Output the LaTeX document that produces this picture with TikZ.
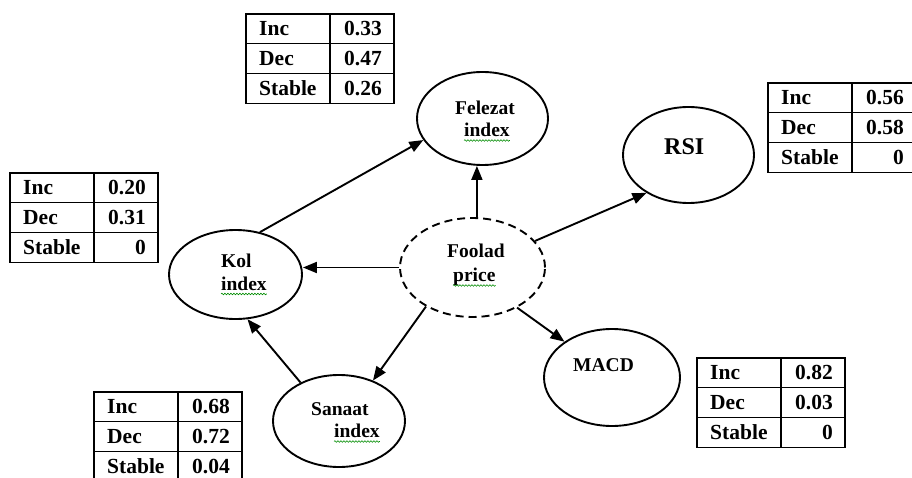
\documentclass[tikz,border=0pt]{standalone}
\usepackage{fontspec}
\setmainfont{Liberation Serif}
\usetikzlibrary{arrows.meta,shapes.geometric,decorations.pathmorphing}

\tikzset{
  ell/.style={ellipse, draw, line width=1.9pt, inner sep=0pt},
  dashell/.style={ell, dash pattern=on 8pt off 5pt},
  arr/.style={line width=1.9pt, -{Triangle[length=14pt,width=11pt]}},
  lbl/.style={anchor=base west, inner sep=0pt, font=\fontsize{19.5}{23}\selectfont\bfseries},
  cell/.style={anchor=base west, inner sep=0pt, font=\fontsize{21.5}{25}\selectfont\bfseries},
  cellv/.style={anchor=base east, inner sep=0pt, font=\fontsize{21.5}{25}\selectfont\bfseries},
  tbl/.style={line width=1.1pt},
  spell/.style={draw=green!55!black, line width=0.6pt, decorate,
    decoration={snake, amplitude=0.8pt, segment length=3pt}}
}

\newcommand\probtab[6]{%
  \draw[tbl] (#1,#2) rectangle ++(148,89.4);
  \draw[tbl] (#1,#2+29.8) -- ++(148,0);
  \draw[tbl] (#1,#2+59.6) -- ++(148,0);
  \draw[tbl] (#1+84,#2) -- ++(0,89.4);
  \node[cell] (#3inc) at (#1+13,#2+21.5) {Inc};
  \node[cell] (#3dec) at (#1+13,#2+51.3) {Dec};
  \node[cell] (#3sta) at (#1+13,#2+81.1) {Stable};
  \node[cellv] (#3vi) at (#1+136,#2+21.5) {#4};
  \node[cellv] (#3vd) at (#1+136,#2+51.3) {#5};
  \node[cellv] (#3vs) at (#1+136,#2+81.1) {#6};
}

\begin{document}
\begin{tikzpicture}[x=1pt,y=-1pt]
\useasboundingbox[fill=white] (0,0) rectangle (912,478);

% tables
\probtab{246}{14}{ta}{0.33}{0.47}{0.26}
\probtab{10}{173}{tb}{0.20}{0.31}{0}
\probtab{768}{83}{tc}{0.56}{0.58}{0}
\probtab{697}{358}{td}{0.82}{0.03}{0}
\probtab{94}{392}{te}{0.68}{0.72}{0.04}

% ellipses
\node[ell, minimum width=131pt, minimum height=93pt] (felezat) at (482.5,118.5) {};
\node[ell, minimum width=131pt, minimum height=96pt] (rsi) at (688.5,155) {};
\node[dashell, minimum width=145pt, minimum height=99pt] (foolad) at (472.5,267.5) {};
\node[ell, minimum width=133pt, minimum height=89pt] (kol) at (235.5,274.5) {};
\node[ell, minimum width=132pt, minimum height=92pt] (sanaat) at (339,421) {};
\node[ell, minimum width=136pt, minimum height=97pt] (macd) at (612,377.5) {};

% labels
\node[lbl] (felezatt) at (455,115) {Felezat};
\node[lbl] (felezati) at (464,136.5) {index};
\node[lbl] (kolt) at (221,267) {Kol};
\node[lbl] (koli) at (221,290) {index};
\node[lbl] (fooladt) at (447,258) {Foolad};
\node[lbl] (fooladp) at (453,281.5) {price};
\node[lbl] (sanaatt) at (311,415) {Sanaat};
\node[lbl] (sanaati) at (334,437.5) {index};
\node[lbl] (macdt) at (573,371) {MACD};
\node[lbl, font=\fontsize{24}{27}\selectfont\bfseries] (rsit) at (664,154.5) {RSI};

% spell-check underlines
\draw[spell] ([yshift=-4pt]felezati.base west) -- ([yshift=-4pt]felezati.base east);
\draw[spell] ([yshift=-4pt]koli.base west) -- ([yshift=-4pt]koli.base east);
\draw[spell] ([yshift=-4pt]fooladp.base west) -- ([yshift=-4pt]fooladp.base east);
\draw[spell] ([yshift=-4pt]sanaati.base west) -- ([yshift=-4pt]sanaati.base east);

% arrows
\draw[arr] (foolad.85) -- (foolad.85 |- felezat.south);
\draw[arr] (foolad.23) -- (rsi.222);
\draw[arr] (foolad.west) -- (kol.east |- foolad.west);
\draw[arr] (foolad.220) -- (sanaat.50);
\draw[arr] (foolad.318) -- (macd.143);
\draw[arr] (kol.60) -- (felezat.200);
\draw[arr] (sanaat.135) -- (kol.285);
\end{tikzpicture}
\end{document}
